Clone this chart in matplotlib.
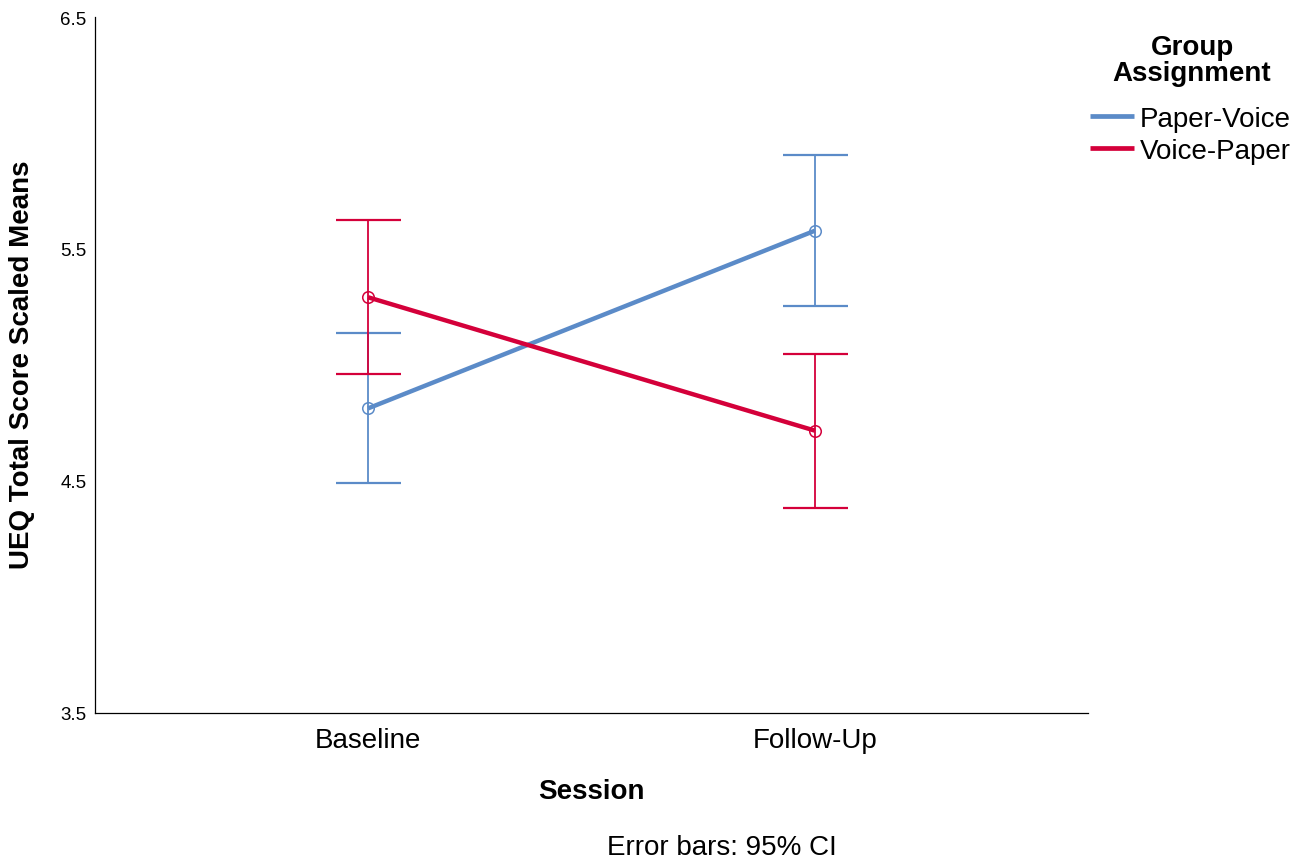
import matplotlib
matplotlib.use("Agg")
import matplotlib.pyplot as plt
import numpy as np

plt.rcParams['font.family'] = ['Liberation Sans', 'DejaVu Sans']

sessions = ["Baseline", "Follow-Up"]
groups = ["Paper-Voice", "Voice-Paper"]
colors = ["#5B8BC8", "#D4003A"]

pv_mean = [4.813, 5.579]
pv_low = [4.490, 5.256]
pv_high = [5.137, 5.904]

vp_mean = [5.292, 4.717]
vp_low = [4.961, 4.385]
vp_high = [5.625, 5.049]

yticks = [3.5, 4.5, 5.5, 6.5]

fig = plt.figure(figsize=(13.04, 8.62), dpi=100)
ax = fig.add_axes([95/1304, 148/862, (1088-95)/1304, (714-18)/862])

x = np.arange(len(sessions))
series = [(pv_mean, pv_low, pv_high), (vp_mean, vp_low, vp_high)]
for (m, lo, hi), c, g in zip(series, colors, groups):
    m = np.array(m); lo = np.array(lo); hi = np.array(hi)
    ax.errorbar(x, m, yerr=[m - lo, hi - m], fmt='none', ecolor=c,
                elinewidth=1.3, capsize=23.4, capthick=1.6, zorder=2)
    ax.plot(x, m, color=c, lw=3.2, label=g, zorder=3, solid_capstyle='butt')
    ax.plot(x, m, 'o', ms=8.3, mfc='none', mec=c, mew=1.1, zorder=4)

ax.set_xlim(-0.611, 1.611)
ax.set_ylim(3.5, 6.5)
ax.set_yticks(yticks)
ax.set_yticklabels([f"{v:.1f}" for v in yticks], fontsize=13.5)
ax.set_xticks(x)
ax.set_xticklabels(sessions, fontsize=20)
ax.tick_params(axis='both', length=0)
ax.tick_params(axis='y', pad=6)
ax.tick_params(axis='x', pad=10)
for s in ['top', 'right']:
    ax.spines[s].set_visible(False)
for s in ['left', 'bottom']:
    ax.spines[s].set_linewidth(0.9)

fig.text(591/1304, 1 - 792/862, "Session", fontsize=20, fontweight='bold',
         ha='center', va='center')
fig.text(22/1304, 1 - 365/862, "UEQ Total Score Scaled Means", fontsize=20,
         fontweight='bold', rotation=90, ha='center', va='center')
fig.text(722/1304, 1 - 848/862, "Error bars: 95% CI", fontsize=20, ha='center', va='center')

# legend title
fig.text(1192/1304, 1 - 61/862, "Group\nAssignment", fontsize=20, fontweight='bold',
         ha='center', va='center', multialignment='center', linespacing=1.02)

leg = ax.legend(loc='upper left', bbox_to_anchor=(1090/1304, 1 - 107/862),
                bbox_transform=fig.transFigure, frameon=False, fontsize=20,
                handlelength=1.6, handletextpad=0.2,
                labelspacing=0.22, borderpad=0, borderaxespad=0)
for h in leg.legend_handles:
    h.set_linewidth(3.4)

fig.savefig("out.png", dpi=100)
